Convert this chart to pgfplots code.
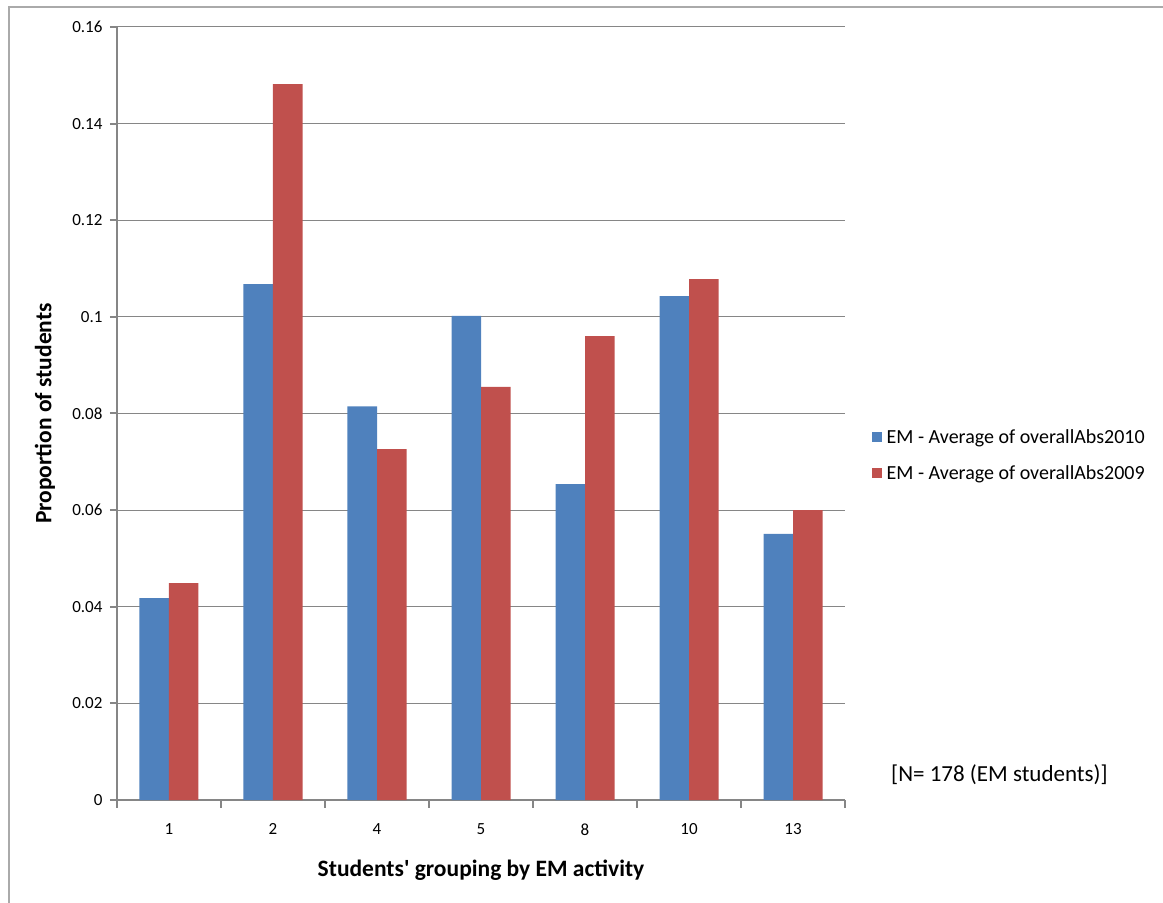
\documentclass[border=0pt]{standalone}
\usepackage{fontspec}
\setmainfont{Carlito}
\usepackage{pgfplots}
\pgfplotsset{compat=1.18}
\definecolor{exblue}{HTML}{4F81BD}
\definecolor{exred}{HTML}{C0504D}
\definecolor{exgray}{HTML}{868686}
\begin{document}
\begin{tikzpicture}
\path[use as bounding box] (0pt,0pt) rectangle (1163pt,903pt);
\draw[exgray!70, line width=1.5pt] (9pt,0pt) -- (9pt,896pt) -- (1163pt,896pt);
\begin{axis}[
  at={(117pt,103pt)}, anchor=south west, scale only axis,
  width=728pt, height=773pt,
  ymin=0, ymax=0.16, xmin=-0.5, xmax=6.5,
  ybar=0pt, bar width=29.5pt,
  axis lines*=left,
  axis line style={exgray, line width=2pt},
  ytick={0,0.02,0.04,0.06,0.08,0.1,0.12,0.14,0.16},
  yticklabels={0,0.02,0.04,0.06,0.08,0.1,0.12,0.14,0.16},
  ymajorgrids, grid style={exgray, line width=1pt},
  xtick={0,1,2,3,4,5,6},
  xticklabels={1,2,4,5,8,10,13},
  minor xtick={-0.5,0.5,1.5,2.5,3.5,4.5,5.5,6.5},
  major x tick style={draw=none},
  minor x tick style={exgray, line width=2pt},
  major y tick style={exgray, line width=2pt},
  tick align=outside,
  major tick length=7pt, minor tick length=8pt,
  tick label style={font=\fontsize{17}{20}\selectfont},
  /pgf/number format/assume math mode=true,
  xticklabel style={yshift=-13pt},
  yticklabel style={xshift=-4pt},
  xlabel={Students\textquotesingle\ grouping by EM activity},
  ylabel={Proportion of students},
  xlabel style={font=\bfseries\fontsize{23.5}{28}\selectfont, at={(axis description cs:0.5,-0.0906)}, anchor=center},
  ylabel style={font=\bfseries\fontsize{23.5}{28}\selectfont, at={(axis description cs:-0.0989,0.5)}, anchor=center},
  legend style={draw=none, fill=none, at={(axis description cs:1.0364,0.446)}, anchor=west,
    font=\fontsize{20}{24}\selectfont, row sep=17pt, inner sep=0pt},
  legend cell align=left,
  legend image code/.code={\fill[#1] (0pt,-5pt) rectangle (10pt,5pt); \path (13pt,0pt);},
  clip=false,
]
\addplot[fill=exblue, draw=none] coordinates {(0,0.0418) (1,0.1068) (2,0.0815) (3,0.1002) (4,0.0654) (5,0.1043) (6,0.0551)};
\addplot[fill=exred, draw=none] coordinates {(0,0.0449) (1,0.1482) (2,0.0726) (3,0.0855) (4,0.0960) (5,0.1078) (6,0.0600)};
\legend{EM - Average of overallAbs2010, EM - Average of overallAbs2009}
\end{axis}
\node[anchor=west, font=\fontsize{23}{27}\selectfont, inner sep=0pt] at (891pt,128pt) {[N= 178 (EM students)]};
\end{tikzpicture}
\end{document}
